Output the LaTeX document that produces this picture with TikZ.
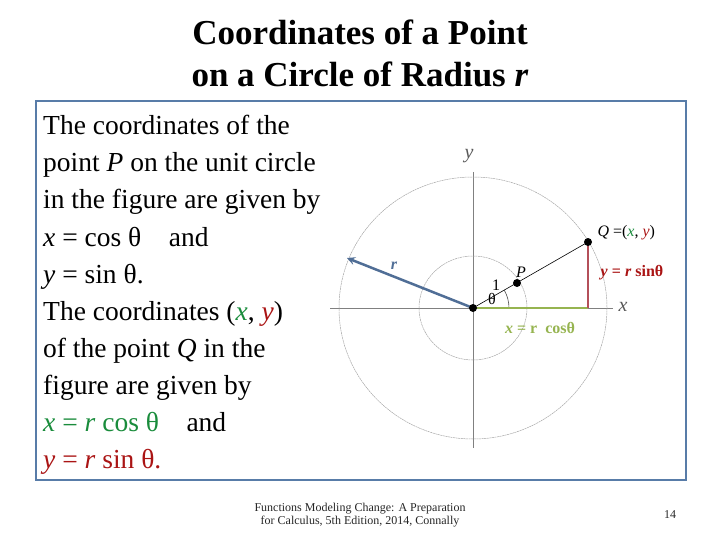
\documentclass[tikz,border=0pt]{standalone}
\usepackage{fontspec}
\setmainfont{Liberation Serif}
\begin{document}
\begin{tikzpicture}[x=1pt,y=-1pt,
  body/.style={anchor=base west,font=\fontsize{27.5}{28}\selectfont,inner sep=0},
  lab/.style={font=\fontsize{16}{16}\selectfont},
  dot/.style={circle,fill=black,inner sep=0,minimum size=8pt},
  guide/.style={gray!70,line width=0.5pt,dash pattern=on 2pt off 0.6pt}]
\useasboundingbox (0,0) rectangle (720,540);
\definecolor{frame}{RGB}{88,124,168}
\definecolor{xg}{RGB}{26,140,60}
\definecolor{yr}{RGB}{170,20,20}
\definecolor{olive}{RGB}{150,180,80}
\definecolor{rose}{RGB}{180,80,90}
\definecolor{arr}{RGB}{80,110,150}
\node[font=\fontsize{35}{35}\selectfont\bfseries] (t1) at (360,32) {Coordinates of a Point};
\node[font=\fontsize{35}{35}\selectfont\bfseries] (t2) at (360,74) {on a Circle of Radius \textit{r}};
\draw[frame,line width=2.5pt] (36,101) rectangle (686,480);
\node[body] (l1) at (43,135) {The coordinates of the};
\node[body] (l2) at (43,172) {point \textit{P} on the unit circle};
\node[body] (l3) at (43,209) {in the figure are given by};
\node[body] (l4) at (43,246) {\textit{x} = cos θ\quad and};
\node[body] (l5) at (43,283) {\textit{y} = sin θ.};
\node[body] (l6) at (43,320) {The coordinates (\textcolor{xg}{\textit{x}}, \textcolor{yr}{\textit{y}})};
\node[body] (l7) at (43,357) {of the point \textit{Q} in the};
\node[body] (l8) at (43,394) {figure are given by};
\node[body] (l9) at (43,431) {\textcolor{xg}{\textit{x} = \textit{r} cos θ}\quad and};
\node[body] (l10) at (43,468) {\textcolor{yr}{\textit{y} = \textit{r} sin θ.}};
% figure
\coordinate (O) at (473,308);
\draw[gray,line width=0.5pt] (330,308) -- (613,308);
\draw[gray,line width=0.5pt] (473,172) -- (473,448);
\draw[guide] (O) ellipse (134 and 131);
\draw[guide] (O) ellipse (54 and 52);
\node[lab,font=\fontsize{20}{20}\selectfont\itshape,gray!70!black] (ylab) at (469,156) {y};
\node[lab,font=\fontsize{20}{20}\selectfont\itshape,gray!70!black] (xlab) at (623,307) {x};
\coordinate (Qc) at (588,242);
\coordinate (Pc) at (517,283);
\coordinate (F) at (588,308);
\draw[black,line width=0.6pt] (O) -- (Qc);
\draw[gray!60!black,line width=0.6pt] (O) ++(36,0) arc[start angle=0,end angle=-30,radius=36];
\draw[arr,line width=2.5pt,-stealth] (O) -- (347,258);
\draw[olive,line width=2.5pt] (O) -- (F);
\draw[rose,line width=2.5pt] (Qc) -- (F);
\node[dot] (O2) at (O) {};
\node[dot] (Q) at (Qc) {};
\node[dot] (P) at (Pc) {};
\node[lab,font=\fontsize{16}{16}\selectfont\itshape] (Pl) at (521,272) {P};
\node[lab] (one) at (496,285) {1};
\node[lab] (th) at (492,299) {θ};
\node[lab,font=\fontsize{16}{16}\selectfont\bfseries\itshape,arr] (rl) at (394,266) {r};
\node[lab,anchor=west] (Ql) at (594,233) {\textit{Q} =(\textcolor{xg}{\textit{x}}, \textcolor{yr}{\textit{y}})};
\node[lab,font=\fontsize{16}{16}\selectfont\bfseries,yr] (ys) at (632,273) {\textit{y} = \textit{r} sinθ};
\node[lab,font=\fontsize{16}{16}\selectfont\bfseries,olive] (xc) at (540,328) {\textit{x} = r\ \ cosθ};
\node[font=\fontsize{12}{13}\selectfont,align=center,gray!30!black] (foot) at (360,515) {Functions Modeling Change: A Preparation\\for Calculus, 5th Edition, 2014, Connally};
\node[font=\fontsize{12}{13}\selectfont,gray!30!black] (pg) at (670,515) {14};
\end{tikzpicture}
\end{document}
